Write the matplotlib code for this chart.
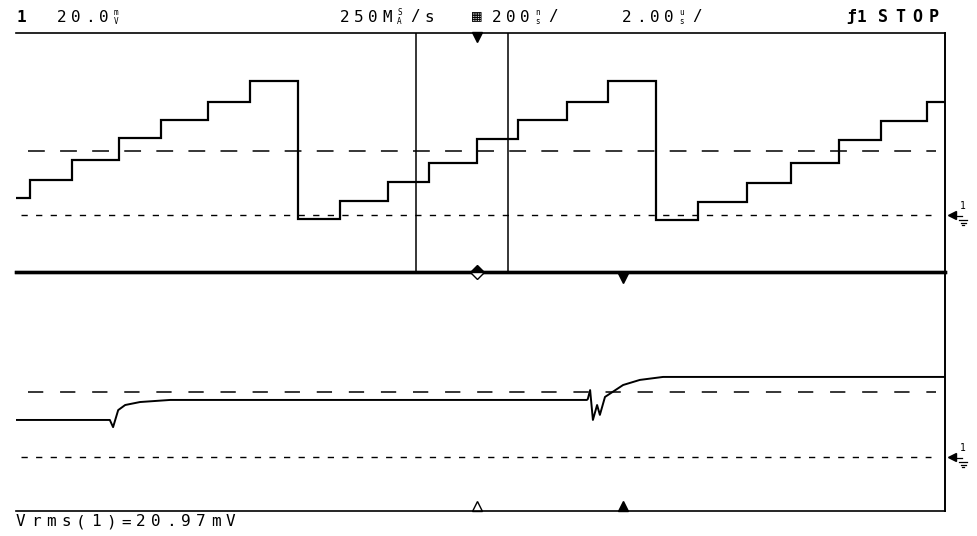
import matplotlib
matplotlib.use("Agg")
import matplotlib.pyplot as plt
from matplotlib.lines import Line2D

# screen: 10 divisions of 2.00 us, 20.0 mV/div
t_span = 20.0

# channel 1 (top trace): step times (us) and levels (mV)
top_edges = [0.0, 0.30, 1.21, 2.22, 3.12, 4.13, 5.04, 6.07, 6.98, 8.01, 8.89,
             9.92, 10.81, 11.86, 12.74, 13.78, 14.68, 15.74, 16.68, 17.72,
             18.62, 19.61, 20.0]
top_levels = [5.7, 11.7, 18.4, 25.8, 31.8, 37.8, 44.9, -1.3, 4.7, 11.0, 17.4,
              25.4, 31.8, 37.8, 44.9, -1.7, 4.4, 10.7, 17.4, 25.1, 31.5, 37.8]
top_ref_dash = 21.4

# lower trace: time (us) and level (mV)
bot_t = [0.0, 2.02, 2.09, 2.20, 2.35, 2.67, 3.32, 12.29, 12.31, 12.36, 12.42,
         12.51, 12.57, 12.68, 13.07, 13.43, 13.93, 20.0]
bot_v = [12.4, 12.4, 10.0, 15.7, 17.4, 18.4, 19.1, 19.1, 19.4, 22.4, 12.4,
         17.4, 14.1, 20.1, 24.1, 25.8, 26.8, 26.8]
bot_ref_dash = 21.8

cursors = [8.62, 10.60]
trig_t = 9.92
mark_t = 13.07

W, H = 977, 536
fig = plt.figure(figsize=(W / 100, H / 100), dpi=100)
fig.patch.set_facecolor("white")


def fx(x):
    return x / W


def fy(y):
    return 1 - y / H


ax_top = fig.add_axes([fx(16), fy(272), 929 / W, 239 / H])
ax_bot = fig.add_axes([fx(16), fy(511), 929 / W, 239 / H])
ax_top.set_zorder(3)

px_per_mv = 59.75 / 20.0
ax_top.set_ylim((215 - 272) / px_per_mv, (215 - 33) / px_per_mv)
ax_bot.set_ylim((457 - 511) / px_per_mv, (457 - 272) / px_per_mv)

for ax in (ax_top, ax_bot):
    ax.patch.set_visible(False)
    ax.set_xlim(0, t_span)
    ax.set_xticks([])
    ax.set_yticks([])
    ax.spines["left"].set_visible(False)
    ax.spines["right"].set_linewidth(1.4)
    ax.spines["top"].set_linewidth(1.2)
    ax.spines["bottom"].set_linewidth(1.2)
    # ground reference (dotted) line
    ax.plot([0.1, 19.7], [0, 0], color="black", lw=1.0, dashes=(4.5, 6.0))
ax_top.spines["bottom"].set_linewidth(2.4)
ax_bot.spines["top"].set_linewidth(2.4)

# reference (dashed) lines
ax_top.plot([0.25, 19.8], [top_ref_dash] * 2, color="black", lw=1.1, dashes=(11, 10))
ax_bot.plot([0.25, 19.8], [bot_ref_dash] * 2, color="black", lw=1.1, dashes=(10, 11))

# traces
ax_top.stairs(top_levels, top_edges, baseline=None, color="black", lw=1.6)
ax_bot.plot(bot_t, bot_v, color="black", lw=1.4)

# cursors
for c in cursors:
    ax_top.axvline(c, color="black", lw=1.1)

# trigger / position markers
xt = ax_top.get_xaxis_transform()
xb = ax_bot.get_xaxis_transform()
ax_top.plot(trig_t, 0.985, marker="v", ms=7, color="black", transform=xt, clip_on=False)
ax_top.plot(trig_t, 0.0, marker="D", ms=7, fillstyle="top", mfc="black",
            mfcalt="white", mec="black", mew=1.0, transform=xt, clip_on=False, zorder=5)
ax_bot.plot(mark_t, 0.975, marker="v", ms=7, color="black", transform=xb, clip_on=False)
ax_bot.plot(trig_t, 0.022, marker="^", ms=7, mfc="white", mec="black", transform=xb, clip_on=False)
ax_bot.plot(mark_t, 0.022, marker="^", ms=7, color="black", transform=xb, clip_on=False)

# ground markers on the right: arrow, "1" and a drawn ground sign
for ax, gy in ((ax_top, 215), (ax_bot, 457)):
    yt = ax.get_yaxis_transform()
    ax.plot(1.007, 0, marker="<", ms=6, color="black", transform=yt, clip_on=False)
    fig.text(fx(960), fy(gy - 9), "1", fontsize=7, family="DejaVu Sans Mono",
             ha="left", va="center")
    fig.add_artist(Line2D([fx(953), fx(962)], [fy(gy + 1), fy(gy + 1)], color="black", lw=0.9))
    for k, half in enumerate([4, 2.5, 1]):
        yy = fy(gy + 5 + 2.5 * k)
        fig.add_artist(Line2D([fx(963 - half), fx(963 + half)], [yy, yy], color="black", lw=0.9))

mono = "DejaVu Sans Mono"


def cells(x0, y, items, pitch=14, size=11.5, weight="normal"):
    # place characters on a fixed grid like the scope's pixel font
    x = x0
    for it in items:
        if isinstance(it, tuple):
            fig.text(fx(x + 1), fy(y - 4.5), it[0], fontsize=5.5, family=mono,
                     ha="left", va="center", weight=weight)
            fig.text(fx(x + 1), fy(y + 4.5), it[1], fontsize=5.5, family=mono,
                     ha="left", va="center", weight=weight)
        else:
            fig.text(fx(x), fy(y), it, fontsize=size, family=mono,
                     ha="left", va="center", weight=weight)
        x += pitch


cells(16, 17, ["1"], weight="bold")
cells(57, 17, ["2", "0", ".", "0", ("m", "V")])
cells(340, 17, ["2", "5", "0", "M", ("S", "A"), "/", "s"])
cells(472, 17, ["▦"])
cells(492, 17, ["2", "0", "0", ("n", "s"), "/"])
cells(622, 17, ["2", ".", "0", "0", ("u", "s"), "/"])
cells(846, 17, ["ƒ", "1"], pitch=10, weight="bold")
cells(878, 17, ["S", "T", "O", "P"], pitch=17, size=12, weight="bold")
cells(16, 522, list("Vrms(1)=20.97mV"), pitch=15)

fig.savefig("out.png", dpi=100, facecolor="white")
